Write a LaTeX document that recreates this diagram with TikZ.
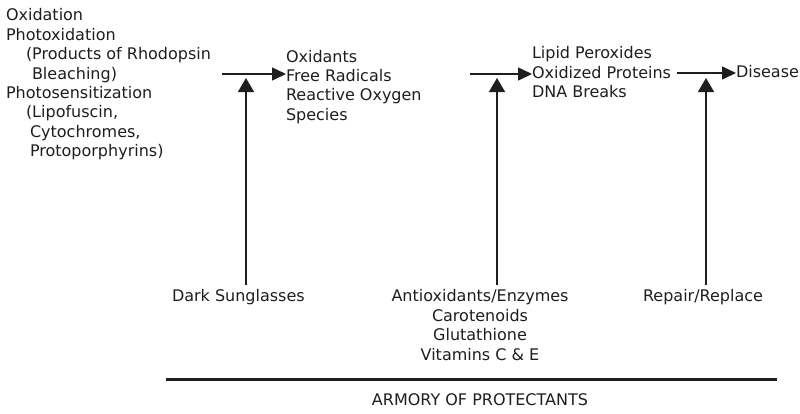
\documentclass[tikz,border=0pt]{standalone}
\usepackage{fontspec}
\setmainfont{DejaVu Sans}
\usetikzlibrary{arrows.meta}
\definecolor{ink}{HTML}{1E1E1E}
\tikzset{
  txt/.style={inner sep=0pt, outer sep=0pt, text=ink, font=\fontsize{16pt}{19.4pt}\selectfont},
  lbl/.style={txt, align=left, anchor=north west},
  clbl/.style={txt, align=center, anchor=north},
  harrow/.style={line width=1.5pt, draw=ink, -{Triangle[length=14pt,width=13pt]}},
  varrow/.style={line width=1.5pt, draw=ink, -{Triangle[length=14pt,width=16pt]}},
  bar/.style={line width=3pt, draw=ink}
}
\begin{document}
\begin{tikzpicture}[x=1pt,y=-1pt]
\useasboundingbox (0,0) rectangle (800,413);
% text blocks
\node[lbl] (src) at (6,8.8) {Oxidation\\Photoxidation\\\hspace*{20pt}(Products of Rhodopsin\\\hspace*{26pt}Bleaching)\\Photosensitization\\\hspace*{20pt}(Lipofuscin,\\\hspace*{24pt}Cytochromes,\\\hspace*{24pt}Protoporphyrins)};
\node[lbl] (ox) at (286,50) {Oxidants\\Free Radicals\\Reactive Oxygen\\Species};
\node[lbl] (lip) at (532,46.5) {Lipid Peroxides\\Oxidized Proteins\\DNA Breaks};
\node[lbl] (dis) at (736,65.5) {Disease};
\node[lbl] (sun) at (172,289.8) {Dark Sunglasses};
\node[clbl] (anti) at (480,289.8) {Antioxidants/Enzymes\\Carotenoids\\Glutathione\\Vitamins C \& E};
\node[clbl] (rep) at (703,289.8) {Repair/Replace};
\node[clbl] (arm) at (480,393.3) {ARMORY OF PROTECTANTS};
% coordinates for connector ends
\coordinate (h1) at (222,74);
\coordinate (h2) at (470,74);
\coordinate (h3) at (677,73);
\coordinate (v1) at (246,78);
\coordinate (v2) at (497,78);
\coordinate (v3) at (706,78);
\coordinate (barL) at (166,379);
\coordinate (barR) at (777,379);
% horizontal arrows
\draw[harrow] (h1) -- (h1 -| ox.west);
\draw[harrow] (h2) -- (h2 -| lip.west);
\draw[harrow] (h3) -- (h3 -| dis.west);
% vertical arrows
\draw[varrow] (v1 |- sun.north) ++(0,-5) -- (v1);
\draw[varrow] (v2 |- anti.north) ++(0,-5) -- (v2);
\draw[varrow] (v3 |- rep.north) ++(0,-5) -- (v3);
% bar
\draw[bar] (barL) -- (barR);
\end{tikzpicture}
\end{document}
